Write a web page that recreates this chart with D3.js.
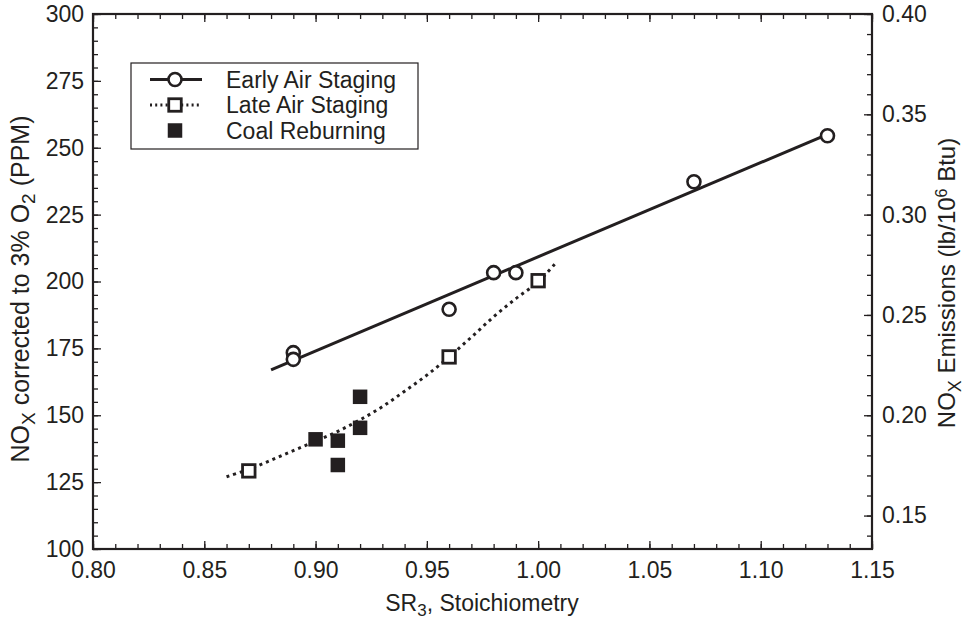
<!DOCTYPE html>
<html>
<head>
<meta charset="utf-8">
<script src="https://cdn.jsdelivr.net/npm/d3@7"></script>
<style>
  body { margin: 0; background: #fff; }
  text { font-family: "Liberation Sans", Arial, Helvetica, sans-serif; fill: #231f20; }
</style>
</head>
<body>
<div id="chart"></div>
<script>
// data
let earlyX = [0.89, 0.89, 0.96, 0.98, 0.99, 1.07, 1.13]
let earlyY = [173.4, 170.9, 189.6, 203.3, 203.3, 237.3, 254.5]
let earlyFitX = [0.88, 1.13]
let earlyFitY = [167, 255]

let lateX = [0.87, 0.96, 1.00]
let lateY = [129.2, 171.8, 200.3]
let lateFitX = [0.86, 0.87, 0.88, 0.89, 0.90, 0.91, 0.92, 0.93, 0.94, 0.95, 0.96, 0.97, 0.98, 0.99, 1.00, 1.008]
let lateFitY = [127.0, 129.8, 133.2, 136.8, 140.3, 144.0, 148.3, 153.2, 159.0, 165.0, 171.8, 179.2, 186.8, 193.6, 199.9, 207.0]

let coalX = [0.90, 0.91, 0.91, 0.92, 0.92]
let coalY = [141.0, 140.5, 131.4, 145.3, 156.9]

let xTickVals = [0.80, 0.85, 0.90, 0.95, 1.00, 1.05, 1.10, 1.15]
let yTickVals = [100, 125, 150, 175, 200, 225, 250, 275, 300]
let y2TickVals = [0.15, 0.20, 0.25, 0.30, 0.35, 0.40]

let legendNames = ["Early Air Staging", "Late Air Staging", "Coal Reburning"]

var W = 964, H = 620
var margin = {top: 14, right: 92, bottom: 71, left: 93}
var width = W - margin.left - margin.right,
    height = H - margin.top - margin.bottom

var ink = "#231f20"

var svg = d3.select("#chart").append("svg")
    .attr("width", W)
    .attr("height", H)

var g = svg.append("g")
    .attr("transform", "translate(" + margin.left + "," + margin.top + ")")

var x = d3.scaleLinear().domain([0.80, 1.15]).range([0, width])
var y = d3.scaleLinear().domain([100, 300]).range([height, 0])
// lb/10^6 Btu axis is proportional to ppm
var y2 = d3.scaleLinear().domain([100 * 0.4 / 300, 0.4]).range([height, 0])

var minorX = d3.range(80, 116).map(d => d / 100)
var minorY = d3.range(100, 301, 5)
var minorY2 = d3.range(14, 41).map(d => d / 100)

function styleAxis(sel) {
    sel.select(".domain").remove()
    sel.selectAll("line").attr("stroke", ink).attr("stroke-width", 1.3)
    sel.selectAll("text").style("font-size", "23px").attr("fill", ink)
}

// minor ticks (no labels)
g.append("g").attr("transform", "translate(0," + height + ")")
    .call(d3.axisBottom(x).tickValues(minorX).tickSize(-5).tickFormat(""))
    .call(styleAxis)
g.append("g")
    .call(d3.axisTop(x).tickValues(minorX).tickSize(-5).tickFormat(""))
    .call(styleAxis)
g.append("g")
    .call(d3.axisLeft(y).tickValues(minorY).tickSize(-5).tickFormat(""))
    .call(styleAxis)
g.append("g").attr("transform", "translate(" + width + ",0)")
    .call(d3.axisRight(y2).tickValues(minorY2).tickSize(-5).tickFormat(""))
    .call(styleAxis)

// major ticks + labels
g.append("g").attr("transform", "translate(0," + height + ")")
    .call(d3.axisBottom(x).tickValues(xTickVals).tickSize(-8).tickPadding(13).tickFormat(d3.format(".2f")))
    .call(styleAxis)
g.append("g")
    .call(d3.axisTop(x).tickValues(xTickVals).tickSize(-8).tickFormat(""))
    .call(styleAxis)
g.append("g")
    .call(d3.axisLeft(y).tickValues(yTickVals).tickSize(-8).tickPadding(9).tickFormat(d3.format("d")))
    .call(styleAxis)
g.append("g").attr("transform", "translate(" + width + ",0)")
    .call(d3.axisRight(y2).tickValues(y2TickVals).tickSize(-8).tickPadding(10).tickFormat(d3.format(".2f")))
    .call(styleAxis)

// frame
g.append("rect")
    .attr("width", width).attr("height", height)
    .attr("fill", "none").attr("stroke", ink).attr("stroke-width", 2.2)

// fit lines
var line = d3.line().x(d => x(d[0])).y(d => y(d[1]))
g.append("path")
    .datum(d3.zip(earlyFitX, earlyFitY))
    .attr("d", line)
    .attr("fill", "none").attr("stroke", ink).attr("stroke-width", 3)

g.append("path")
    .datum(d3.zip(lateFitX, lateFitY))
    .attr("d", line.curve(d3.curveCatmullRom))
    .attr("fill", "none").attr("stroke", ink).attr("stroke-width", 3)
    .attr("stroke-dasharray", "3,4")

// markers
var r = 6.5
g.selectAll(".early").data(d3.zip(earlyX, earlyY)).enter()
    .append("circle").attr("class", "early")
    .attr("cx", d => x(d[0])).attr("cy", d => y(d[1])).attr("r", r)
    .attr("fill", "#fff").attr("stroke", ink).attr("stroke-width", 2.6)

var s = 12.5
g.selectAll(".late").data(d3.zip(lateX, lateY)).enter()
    .append("rect").attr("class", "late")
    .attr("x", d => x(d[0]) - s / 2).attr("y", d => y(d[1]) - s / 2)
    .attr("width", s).attr("height", s)
    .attr("fill", "#fff").attr("stroke", ink).attr("stroke-width", 2.8)

var c = 14.5
g.selectAll(".coal").data(d3.zip(coalX, coalY)).enter()
    .append("rect").attr("class", "coal")
    .attr("x", d => x(d[0]) - c / 2).attr("y", d => y(d[1]) - c / 2)
    .attr("width", c).attr("height", c)
    .attr("fill", ink)

// legend
var lg = svg.append("g").attr("transform", "translate(131,63)")
lg.append("rect").attr("width", 287).attr("height", 86)
    .attr("fill", "#fff").attr("stroke", ink).attr("stroke-width", 1.2)

var rows = lg.selectAll(".row").data(legendNames).enter()
    .append("g").attr("class", "row")
    .attr("transform", (d, i) => "translate(0," + (16.5 + i * 25.5) + ")")

rows.filter((d, i) => i == 0).append("line")
    .attr("x1", 19).attr("x2", 71).attr("stroke", ink).attr("stroke-width", 3)
rows.filter((d, i) => i == 0).append("circle")
    .attr("cx", 44).attr("r", r).attr("fill", "#fff").attr("stroke", ink).attr("stroke-width", 2.6)
rows.filter((d, i) => i == 1).append("line")
    .attr("x1", 19).attr("x2", 71).attr("stroke", ink).attr("stroke-width", 3).attr("stroke-dasharray", "2,3.2")
rows.filter((d, i) => i == 1).append("rect")
    .attr("x", 44 - s / 2).attr("y", -s / 2).attr("width", s).attr("height", s)
    .attr("fill", "#fff").attr("stroke", ink).attr("stroke-width", 2.8)
rows.filter((d, i) => i == 2).append("rect")
    .attr("x", 44 - c / 2).attr("y", -c / 2).attr("width", c).attr("height", c).attr("fill", ink)

rows.append("text")
    .attr("x", 95).attr("dy", "0.35em")
    .style("font-size", "23px")
    .text(d => d)

// axis titles
var xt = svg.append("text")
    .attr("x", 482).attr("y", 611)
    .attr("text-anchor", "middle").style("font-size", "23px")
xt.append("tspan").text("SR")
xt.append("tspan").attr("dy", 5).style("font-size", "17px").text("3")
xt.append("tspan").attr("dy", -5).text(", Stoichiometry")

var yt = svg.append("text")
    .attr("transform", "translate(29,289) rotate(-90)")
    .attr("text-anchor", "middle").style("font-size", "25px")
yt.append("tspan").text("NO")
yt.append("tspan").attr("dy", 6).style("font-size", "19px").text("X")
yt.append("tspan").attr("dy", -6).text(" corrected to 3% O")
yt.append("tspan").attr("dy", 6).style("font-size", "19px").text("2")
yt.append("tspan").attr("dy", -6).text(" (PPM)")

var y2t = svg.append("text")
    .attr("transform", "translate(955,283) rotate(-90)")
    .attr("text-anchor", "middle").style("font-size", "24px")
y2t.append("tspan").text("NO")
y2t.append("tspan").attr("dy", 6).style("font-size", "18px").text("X")
y2t.append("tspan").attr("dy", -6).text(" Emissions (lb/10")
y2t.append("tspan").attr("dy", -8).style("font-size", "16px").text("6")
y2t.append("tspan").attr("dy", 8).text(" Btu)")
</script>
</body>
</html>
